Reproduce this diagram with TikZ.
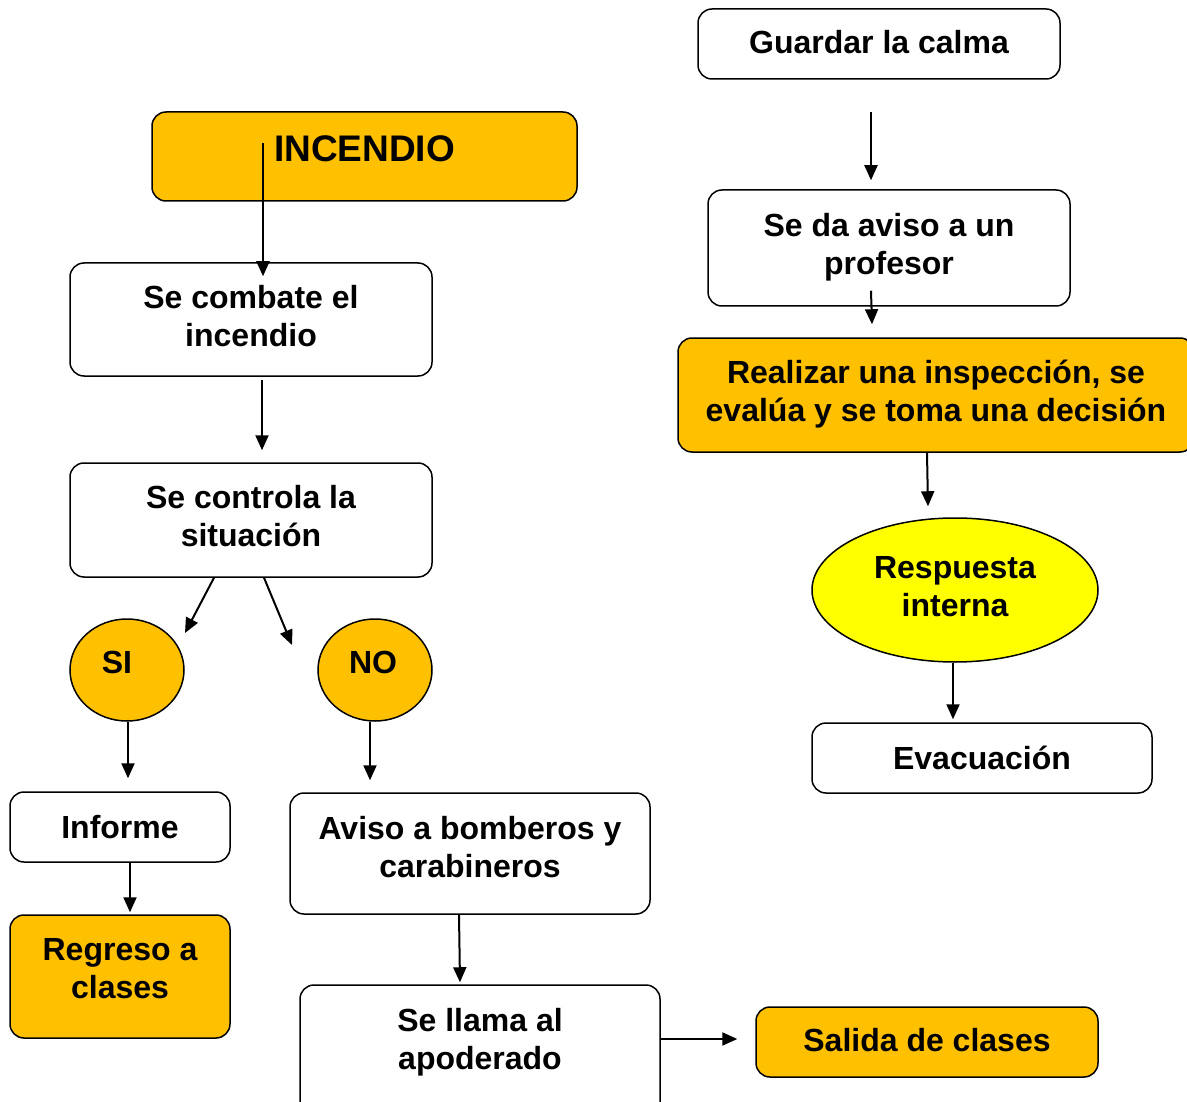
\documentclass[tikz,border=0pt]{standalone}
\usepackage{fontspec}
\setmainfont{Liberation Sans}
\usetikzlibrary{arrows.meta,shapes.geometric,calc}
\definecolor{orng}{HTML}{FFC000}
\definecolor{ylw}{HTML}{FFFF00}
\begin{document}
\begin{tikzpicture}[x=1pt,y=-1pt,
  txt/.style={font=\fontsize{32}{38}\selectfont\bfseries},
  box/.style={draw, rounded corners=14pt, line width=1.5pt, fill=white, align=center, inner sep=0pt, txt},
  obox/.style={box, fill=orng},
  oval/.style={draw, ellipse, line width=1.5pt, fill=orng, align=center, inner sep=0pt, txt},
  arr/.style={-{Triangle[length=15pt,width=13pt]}, line width=2pt}]
\useasboundingbox (0,0) rectangle (1187,1102);
% left column
\node[obox, minimum width=425, minimum height=89, text depth=15pt, font=\fontsize{37}{44}\selectfont\bfseries] (inc) at (364.5,156.5) {INCENDIO};
\node[box, minimum width=362, minimum height=113, text depth=8pt] (comb) at (251,319.5) {Se combate el\\incendio};
\node[box, minimum width=362, minimum height=114, text depth=8pt] (ctrl) at (251,520) {Se controla la\\situación};
\node[oval, minimum width=114, minimum height=102, text depth=16pt] (si) at (127,670) {SI\hspace*{20pt}};
\node[oval, minimum width=114, minimum height=102, text depth=16pt] (no) at (375,670) {NO\hspace*{4pt}};
\node[box, minimum width=220, minimum height=70] (inf) at (120,827) {Informe};
\node[obox, minimum width=220, minimum height=123, text depth=16pt] (reg) at (120,976.5) {Regreso a\\clases};
\node[box, minimum width=360, minimum height=121, text depth=14pt] (avb) at (470,853.5) {Aviso a bomberos y\\carabineros};
\node[box, minimum width=360, minimum height=135, text height=61pt, text depth=28pt] (ll) at (480,1052.5) {Se llama al\\apoderado};
\node[obox, minimum width=342, minimum height=70, text depth=4pt] (sal) at (927,1042) {Salida de clases};
% right column
\node[box, minimum width=362, minimum height=70, text depth=4pt] (g) at (879,44) {Guardar la calma};
\node[box, minimum width=362, minimum height=116, text depth=9pt] (av) at (889,248) {Se da aviso a un\\profesor};
\node[obox, minimum width=516, minimum height=114, text depth=9pt] (rea) at (936,395) {Realizar una inspección, se\\evalúa y se toma una decisión};
\node[oval, fill=ylw, minimum width=286, minimum height=144, text depth=8pt] (resp) at (955,590) {Respuesta\\interna};
\node[box, minimum width=340, minimum height=70] (evac) at (982,758) {Evacuación};
% connectors
\draw[arr] ($(g.south)+(-8,32)$) -- ($(av.north)+(-18,-9)$);
\draw[arr] ($(inc.center)+(-101.5,-13.5)$) -- ($(comb.north)+(12,14)$);
\draw[arr] ($(comb.south)+(11,3)$) -- ($(ctrl.north)+(11,-12)$);
\draw[arr] ($(ctrl.south)+(-37,0)$) -- ($(si.center)+(58,-37)$);
\draw[arr] ($(ctrl.south)+(13,0)$) -- ($(no.center)+(-83,-25)$);
\draw[arr] ($(si.south)+(1,0)$) -- ($(inf.north)+(8,-13)$);
\draw[arr] ($(no.south)+(-5,0)$) -- ($(avb.north)+(-100,-12)$);
\draw[arr] ($(inf.south)+(10,0)$) -- ($(reg.north)+(10,-2)$);
\draw[arr] ($(avb.south)+(-11,0)$) -- ($(ll.north)+(-20,-2)$);
\draw[arr] ($(ll.east)+(0,-13.5)$) -- ($(sal.west)+(-18,-3)$);
\draw[arr] ($(av.south)+(-18,-16)$) -- ($(rea.north)+(-64,-13)$);
\draw[arr] ($(rea.south)+(-9,0)$) -- ($(resp.north)+(-27,-11)$);
\draw[arr] ($(resp.south)+(-2,0)$) -- ($(evac.north)+(-29,-3)$);
\end{tikzpicture}
\end{document}
